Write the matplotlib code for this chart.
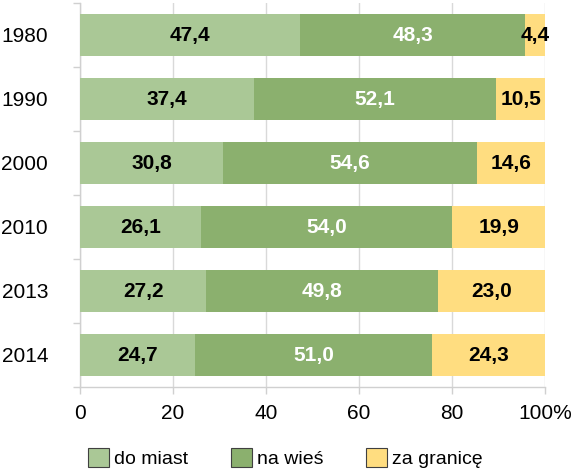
import matplotlib
matplotlib.use("Agg")
import matplotlib.pyplot as plt
import numpy as np
from matplotlib.patches import Patch

plt.rcParams['font.family'] = ['Liberation Sans', 'DejaVu Sans']

years = ["1980", "1990", "2000", "2010", "2013", "2014"]
do_miast = [47.4, 37.4, 30.8, 26.1, 27.2, 24.7]
na_wies = [48.3, 52.1, 54.6, 54.0, 49.8, 51.0]
za_granice = [4.4, 10.5, 14.6, 19.9, 23.0, 24.3]
series_names = ["do miast", "na wieś", "za granicę"]
xticks = [0, 20, 40, 60, 80, 100]
xticklabels = ["0", "20", "40", "60", "80", "100%"]

colors = ["#aac896", "#8bb06e", "#ffdd80"]
text_colors = ["black", "white", "black"]

fig = plt.figure(figsize=(5.78, 4.71), dpi=100)
ax = fig.add_axes([80/578, 1-387/471, (545-80)/578, (387-3)/471])

y = np.arange(len(years))
left = np.zeros(len(years))
for vals, c, tc in zip([do_miast, na_wies, za_granice], colors, text_colors):
    vals = np.array(vals)
    ax.barh(y, vals, left=left, height=0.67, color=c, zorder=3)
    for yi, l, v in zip(y, left, vals):
        ax.text(l + v/2, yi, f"{v:.1f}".replace(".", ","), ha="center", va="center",
                color=tc, fontsize=15, fontweight="bold", zorder=4)
    left += vals

ax.set_xlim(0, 100)
ax.set_ylim(len(years)-0.5, -0.5)
ax.set_yticks(y)
ax.set_yticklabels(years, fontsize=15)
ax.set_yticks(np.arange(-0.5, len(years), 1), minor=True)
ax.tick_params(axis='y', which='major', length=0, pad=23)
ax.tick_params(axis='y', which='minor', length=5, color="#d0d0d0", width=1)
ax.set_xticks(xticks)
ax.set_xticklabels(xticklabels, fontsize=15)
ax.tick_params(axis='x', length=5, color="#d0d0d0", width=1, pad=7)
ax.xaxis.grid(True, color="#d9d9d9", linewidth=1, zorder=0)
ax.set_axisbelow(True)
for s in ["top", "right"]:
    ax.spines[s].set_visible(False)
for s in ["left", "bottom"]:
    ax.spines[s].set_color("#d0d0d0")
    ax.spines[s].set_linewidth(1)

handles = [Patch(facecolor=c, edgecolor="#404040", linewidth=0.8) for c in colors]
fig.legend(handles, series_names, loc="center", bbox_to_anchor=(0.494, 1-458/471),
           ncol=3, frameon=False, fontsize=14, handlelength=1.08, handleheight=1.08,
           handletextpad=0.26, columnspacing=2.2, borderpad=0)

fig.savefig("out.png", dpi=100)
